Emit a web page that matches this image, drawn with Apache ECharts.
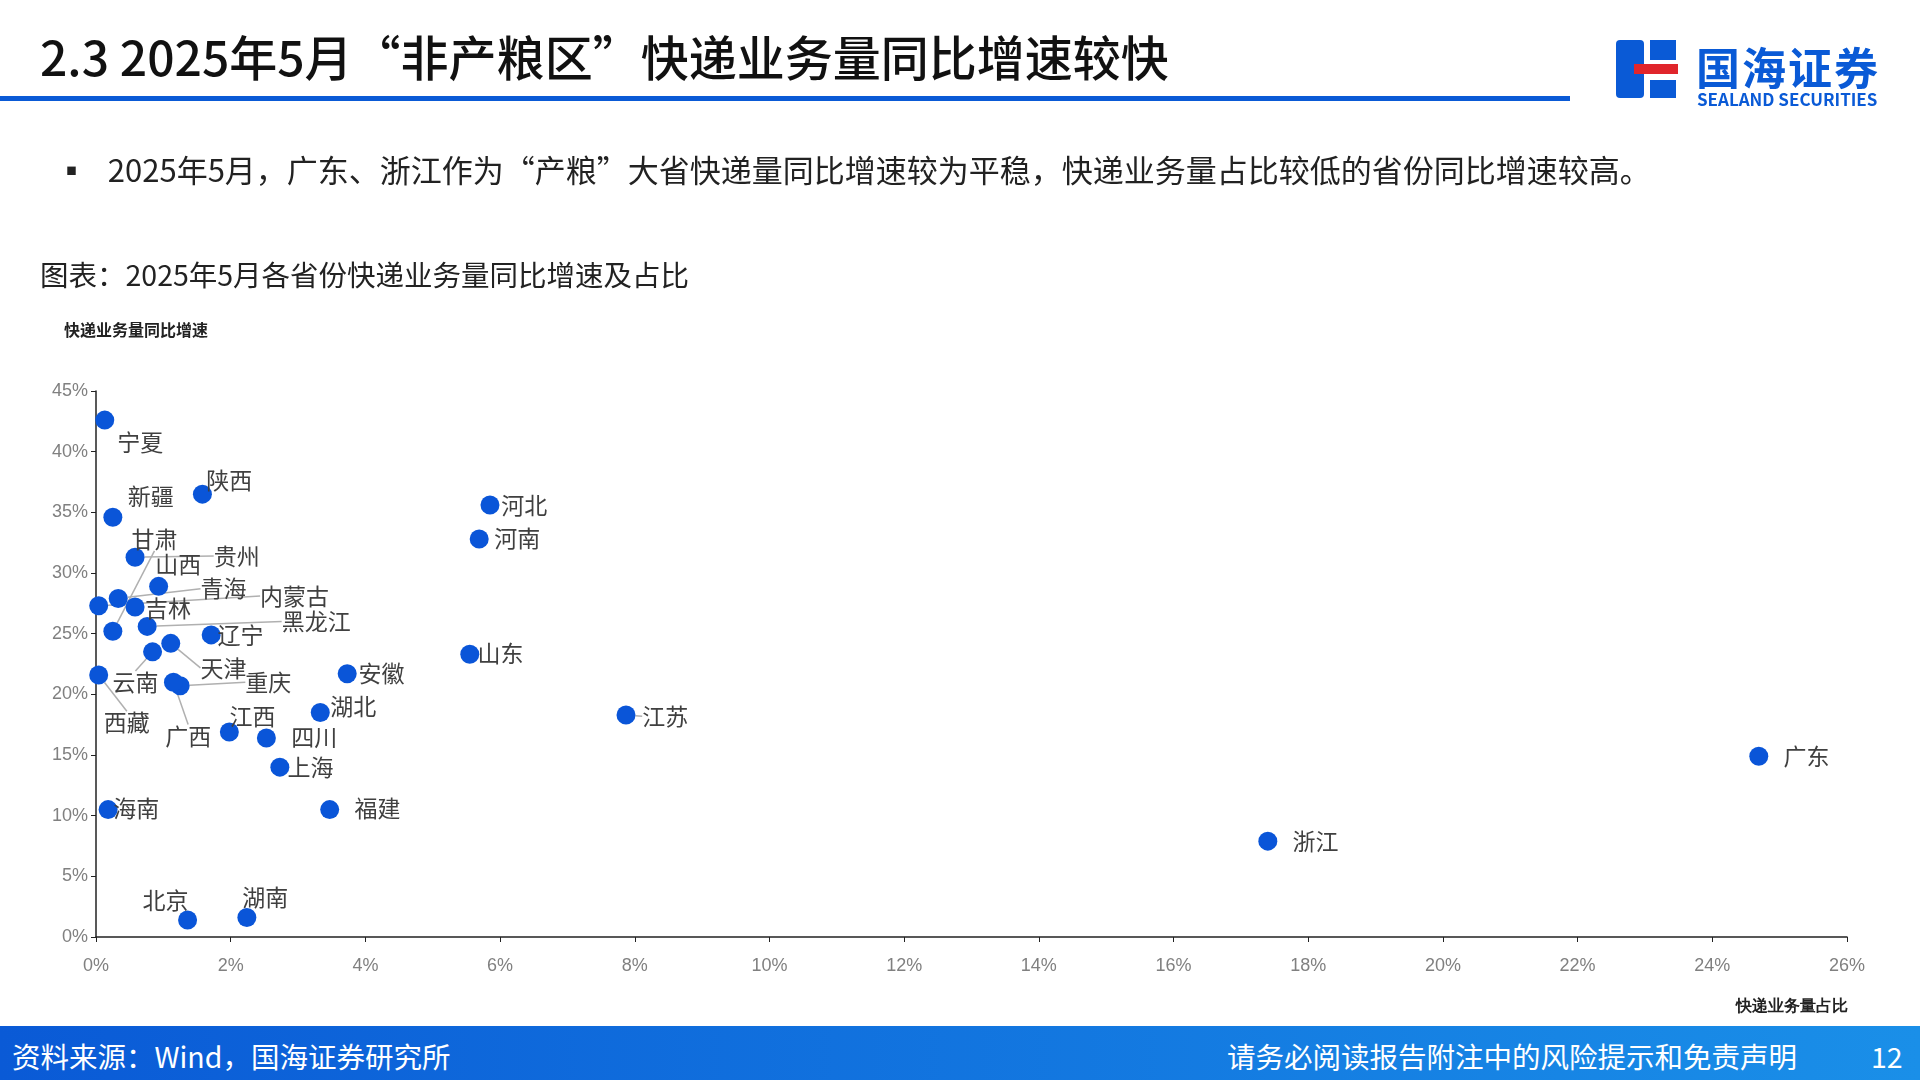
<!DOCTYPE html>
<html><head><meta charset="utf-8">
<script src="https://cdn.jsdelivr.net/npm/echarts@6/dist/echarts.min.js"></script>
<style>
body{margin:0;width:1920px;height:1080px;overflow:hidden;background:#fff;font-family:"Noto Sans CJK SC","Noto Sans",sans-serif;position:relative}
#chart{position:absolute;left:0;top:0;width:1920px;height:1080px}
.t{position:absolute;white-space:nowrap}
</style></head><body>
<div id="chart"></div>
<div class="t" style="left:40px;top:20px;font-size:48px;font-weight:500;color:#111">2.3 2025年5月“非产粮区”快递业务量同比增速较快</div>
<div style="position:absolute;left:0;top:96px;width:1570px;height:5px;background:#0a5ad6"></div>
<div class="t" style="left:1616px;top:40px;width:28px;height:58px;background:#0a5ad6;border-radius:4px"></div>
<div class="t" style="left:1634px;top:64px;width:44px;height:10px;background:#e0252b"></div>
<div class="t" style="left:1650px;top:40px;width:26px;height:20px;background:#0a5ad6"></div>
<div class="t" style="left:1650px;top:80px;width:26px;height:18px;background:#0a5ad6"></div>
<div class="t" style="left:1696px;top:34px;font-size:44px;font-weight:bold;color:#0a5ad6;letter-spacing:2px">国海证券</div>
<div class="t" style="left:1697px;top:86px;font-size:17px;font-weight:bold;color:#0a5ad6">SEALAND SECURITIES</div>
<div class="t" style="left:56px;top:146px;font-size:31px;color:#222">▪&nbsp;&nbsp;&nbsp;2025年5月，广东、浙江作为“产粮”大省快递量同比增速较为平稳，快递业务量占比较低的省份同比增速较高。</div>
<div class="t" style="left:40px;top:253px;font-size:28.5px;color:#222">图表：2025年5月各省份快递业务量同比增速及占比</div>
<div style="position:absolute;left:0;top:1026px;width:1920px;height:54px;background:linear-gradient(90deg,#0a5ad6,#1a8fe8)"></div>
<div class="t" style="left:12px;top:1035px;font-size:28.5px;color:#fff">资料来源：Wind，国海证券研究所</div>
<div class="t" style="left:1227px;top:1035px;font-size:28.5px;color:#fff">请务必阅读报告附注中的风险提示和免责声明</div>
<div class="t" style="left:1871px;top:1035px;font-size:28.5px;color:#fff">12</div>
<script>
var provinces = ['宁夏','陕西','新疆','河北','河南','贵州','山西','甘肃','青海','内蒙古','吉林','黑龙江','辽宁','天津','云南','重庆','广西','西藏','山东','安徽','湖北','江苏','江西','四川','上海','广东','海南','福建','浙江','北京','湖南'];
var share = [0.13,1.58,0.25,5.85,5.69,0.58,0.93,0.25,0.33,0.04,0.58,0.76,1.71,1.11,0.84,1.25,1.15,0.04,5.55,3.73,3.33,7.87,1.98,2.53,2.73,24.69,0.18,3.47,17.4,1.36,2.24];
var growth = [42.6,36.5,34.6,35.6,32.8,31.3,28.9,25.2,27.9,27.3,27.2,25.6,24.9,24.2,23.5,20.7,21.0,21.6,23.3,21.7,18.5,18.3,16.9,16.4,14.0,14.9,10.5,10.5,7.9,1.4,1.6];
var xTicks = [0,2,4,6,8,10,12,14,16,18,20,22,24,26];
var yTicks = [0,5,10,15,20,25,30,35,40,45];

// label offsets from point centre (style only)
var S = 1.2245;
var offsets = {'宁夏':[29,18],'陕西':[22,-11],'新疆':[31,-17],'河北':[28,0],'河南':[31,-1],'贵州':[83,-1],'山西':[16,-18],'甘肃':[34,-75],'青海':[86,-8],'内蒙古':[160,-8],'吉林':[27,1],'黑龙江':[138,-4],'辽宁':[24,0],'天津':[43,20],'云南':[-14,25],'重庆':[72,-3],'广西':[12,44],'西藏':[23,39],'山东':[25,-1],'安徽':[28,0],'湖北':[27,-5],'江苏':[32,1],'江西':[19,-13],'四川':[39,-1],'上海':[25,0],'广东':[39,0],'海南':[23,-1],'福建':[39,-1],'浙江':[39,0],'北京':[-18,-16],'湖南':[15,-17]};
var withLine = ['贵州','甘肃','青海','内蒙古','黑龙江','天津','云南','重庆','广西','西藏','江苏'];

var data = provinces.map(function (p, i) {
    return {name: p, value: [share[i], growth[i]], labelLine: {show: withLine.indexOf(p) >= 0}};
});

var chart = echarts.init(document.getElementById('chart'));
chart.setOption({
    animation: false,
    grid: {left: 96, right: 73, top: 391, bottom: 143},
    xAxis: {
        type: 'value', min: 0, max: 26, interval: 2,
        name: '快递业务量占比', nameLocation: 'end',
        nameTextStyle: {fontSize: 16, fontWeight: 'bold', color: '#222', align: 'right', verticalAlign: 'top', padding: [62, 14, 0, 0]},
        axisLine: {lineStyle: {color: '#222', width: 1.5}},
        axisTick: {show: true, lineStyle: {color: '#222'}},
        axisLabel: {color: '#808080', fontSize: 18, margin: 20, formatter: function (v) { return v + '%'; }},
        splitLine: {show: false}
    },
    yAxis: {
        type: 'value', min: 0, max: 45, interval: 5,
        axisLine: {show: true, lineStyle: {color: '#222', width: 1.5}},
        axisTick: {show: true, lineStyle: {color: '#222'}},
        axisLabel: {color: '#808080', fontSize: 18, formatter: function (v) { return v + '%'; }},
        splitLine: {show: false}
    },
    graphic: [{type: 'text', left: 64, top: 322, style: {text: '快递业务量同比增速', fontSize: 16, fontWeight: 'bold', fill: '#222', fontFamily: 'Noto Sans CJK SC'}}],
    series: [{
        type: 'scatter',
        symbolSize: 19,
        itemStyle: {color: '#0a55d8', opacity: 1},
        data: data,
        label: {show: true, formatter: '{b}', color: '#404040', fontSize: 23, fontFamily: 'Noto Sans CJK SC', position: 'inside'},
        labelLine: {lineStyle: {color: '#b0b0b0', width: 1.5}},
        labelLayout: function (params) {
            var o = offsets[provinces[params.dataIndex]];
            var r = params.rect;
            return {x: r.x + r.width / 2 + o[0] * S, y: r.y + r.height / 2 + o[1] * S, align: 'center', verticalAlign: 'middle'};
        }
    }]
});
</script>
</body></html>
